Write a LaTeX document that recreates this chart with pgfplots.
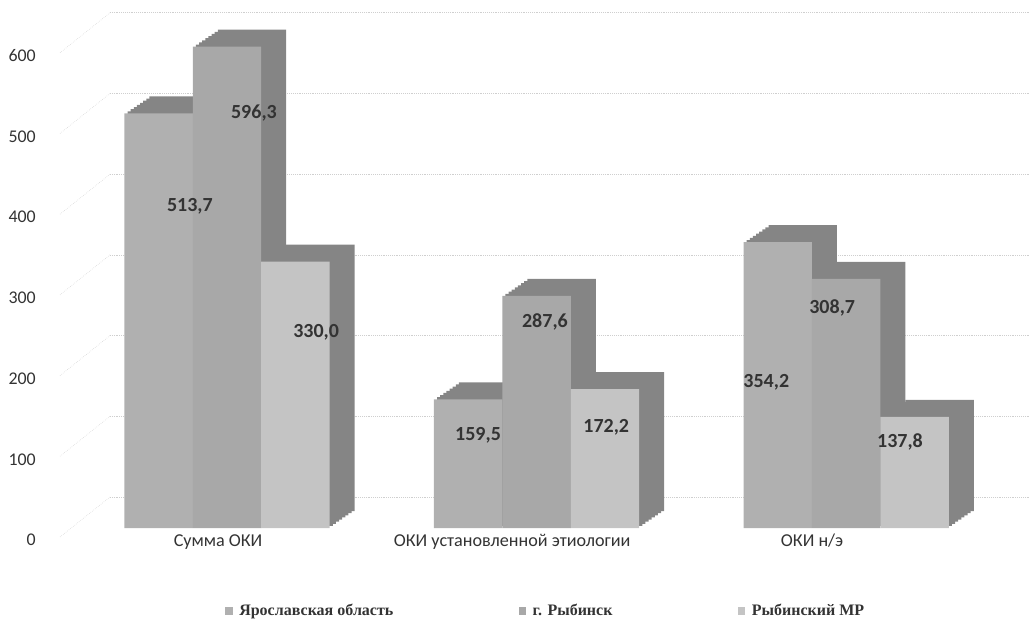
\documentclass[border=0pt]{standalone}
\usepackage{pgfplots}
\pgfplotsset{compat=1.18}
\usepackage{pgfplotstable}
\usepackage{fontspec}
\setmainfont{Carlito}
\newfontfamily\legfont{Liberation Serif}
\definecolor{fA}{HTML}{B0B0B0}
\definecolor{fB}{HTML}{A8A8A8}
\definecolor{fC}{HTML}{C4C4C4}
\definecolor{dep}{HTML}{858585}
\definecolor{txt}{HTML}{333333}
\pgfplotstableread{
x y
-0.221 513.7
0.779 159.5
1.779 354.2
}\tabA
\pgfplotstableread{
x y
0 596.3
1 287.6
2 308.7
}\tabB
\pgfplotstableread{
x y
0.221 330.0
1.221 172.2
2.221 137.8
}\tabC
\pgfplotstableread{
x y lab
-0.120 398 513,7
0.087 514 596,3
0.288 242 330,0
0.811 115 159,5
1.027 255 287,6
1.225 125 172,2
1.742 180 354,2
1.955 273 308,7
2.174 107 137,8
}\tabL
\begin{document}
\begin{tikzpicture}
\useasboundingbox (0,0) rectangle (772.5pt,471.75pt);
\begin{axis}[
  at={(82.5pt,75.75pt)}, anchor=south west,
  scale only axis, width=690pt, height=393.45pt,
  xmin=-0.378, xmax=2.594, ymin=0, ymax=650,
  clip=false,
  axis line style={draw=none},
  major tick length=0pt,
  ytick={0,100,...,600},
  ymajorgrids,
  major grid style={densely dotted, color=gray!38, yshift=23.25pt},
  yticklabel style={anchor=base east, inner sep=0pt, xshift=-55.5pt, yshift=-13.3pt, font=\fontsize{13.4}{15}\selectfont, text=txt},
  /pgf/number format/assume math mode=true,
  xtick={-0.029,0.921,1.890},
  xticklabels={Сумма ОКИ, ОКИ установленной этиологии, ОКИ н/э},
  xticklabel style={anchor=base, inner sep=0pt, yshift=-13.5pt, font=\fontsize{13.6}{15}\selectfont, text=txt},
  legend columns=3,
  legend style={draw=none, fill=none, at={(0.4740,-0.158)}, anchor=center,
    font=\legfont\bfseries\fontsize{12}{14}\selectfont, text=txt,
    /tikz/every even column/.append style={column sep=92pt}},
]
\pgfplotsinvokeforeach{0,100,...,600}{
  \draw[densely dotted, gray!38] (axis cs:-0.378,#1) ++(0pt,23.25pt) -- ++(-37.5pt,-30pt);
}
% series A
\pgfplotsinvokeforeach{8,7,...,1}{
  \addplot[ybar, bar width=0.221, bar shift=0pt, fill=dep, draw=none, forget plot, xshift=#1*2.34375pt, yshift=#1*1.59375pt] table[x=x,y=y] {\tabA};
}
\addplot[ybar, bar width=0.221, bar shift=0pt, fill=fA, draw=none, forget plot] table[x=x,y=y] {\tabA};
% series B
\pgfplotsinvokeforeach{8,7,...,1}{
  \addplot[ybar, bar width=0.221, bar shift=0pt, fill=dep, draw=none, forget plot, xshift=#1*2.34375pt, yshift=#1*1.59375pt] table[x=x,y=y] {\tabB};
}
\addplot[ybar, bar width=0.221, bar shift=0pt, fill=fB, draw=none, forget plot] table[x=x,y=y] {\tabB};
% series C
\pgfplotsinvokeforeach{8,7,...,1}{
  \addplot[ybar, bar width=0.221, bar shift=0pt, fill=dep, draw=none, forget plot, xshift=#1*2.34375pt, yshift=#1*1.59375pt] table[x=x,y=y] {\tabC};
}
\addplot[ybar, bar width=0.221, bar shift=0pt, fill=fC, draw=none, forget plot] table[x=x,y=y] {\tabC};
% labels
\addplot[draw=none, mark=none, forget plot, nodes near coords, point meta=explicit symbolic,
  nodes near coords align=center,
  every node near coord/.append style={anchor=center, font=\bfseries\fontsize{15}{17}\selectfont, text=txt}]
  table[x=x,y=y,meta=lab] {\tabL};
\addlegendimage{legend image code/.code={\fill[fA,draw=none] (0pt,-2.8pt) rectangle (5.5pt,2.8pt); \path[draw=none,fill=none] (8.5pt,0pt);}}
\addlegendentry{Ярославская область}
\addlegendimage{legend image code/.code={\fill[fB,draw=none] (0pt,-2.8pt) rectangle (5.5pt,2.8pt); \path[draw=none,fill=none] (8.5pt,0pt);}}
\addlegendentry{г. Рыбинск}
\addlegendimage{legend image code/.code={\fill[fC,draw=none] (0pt,-2.8pt) rectangle (5.5pt,2.8pt); \path[draw=none,fill=none] (8.5pt,0pt);}}
\addlegendentry{Рыбинский МР}
\end{axis}
\end{tikzpicture}
\end{document}
